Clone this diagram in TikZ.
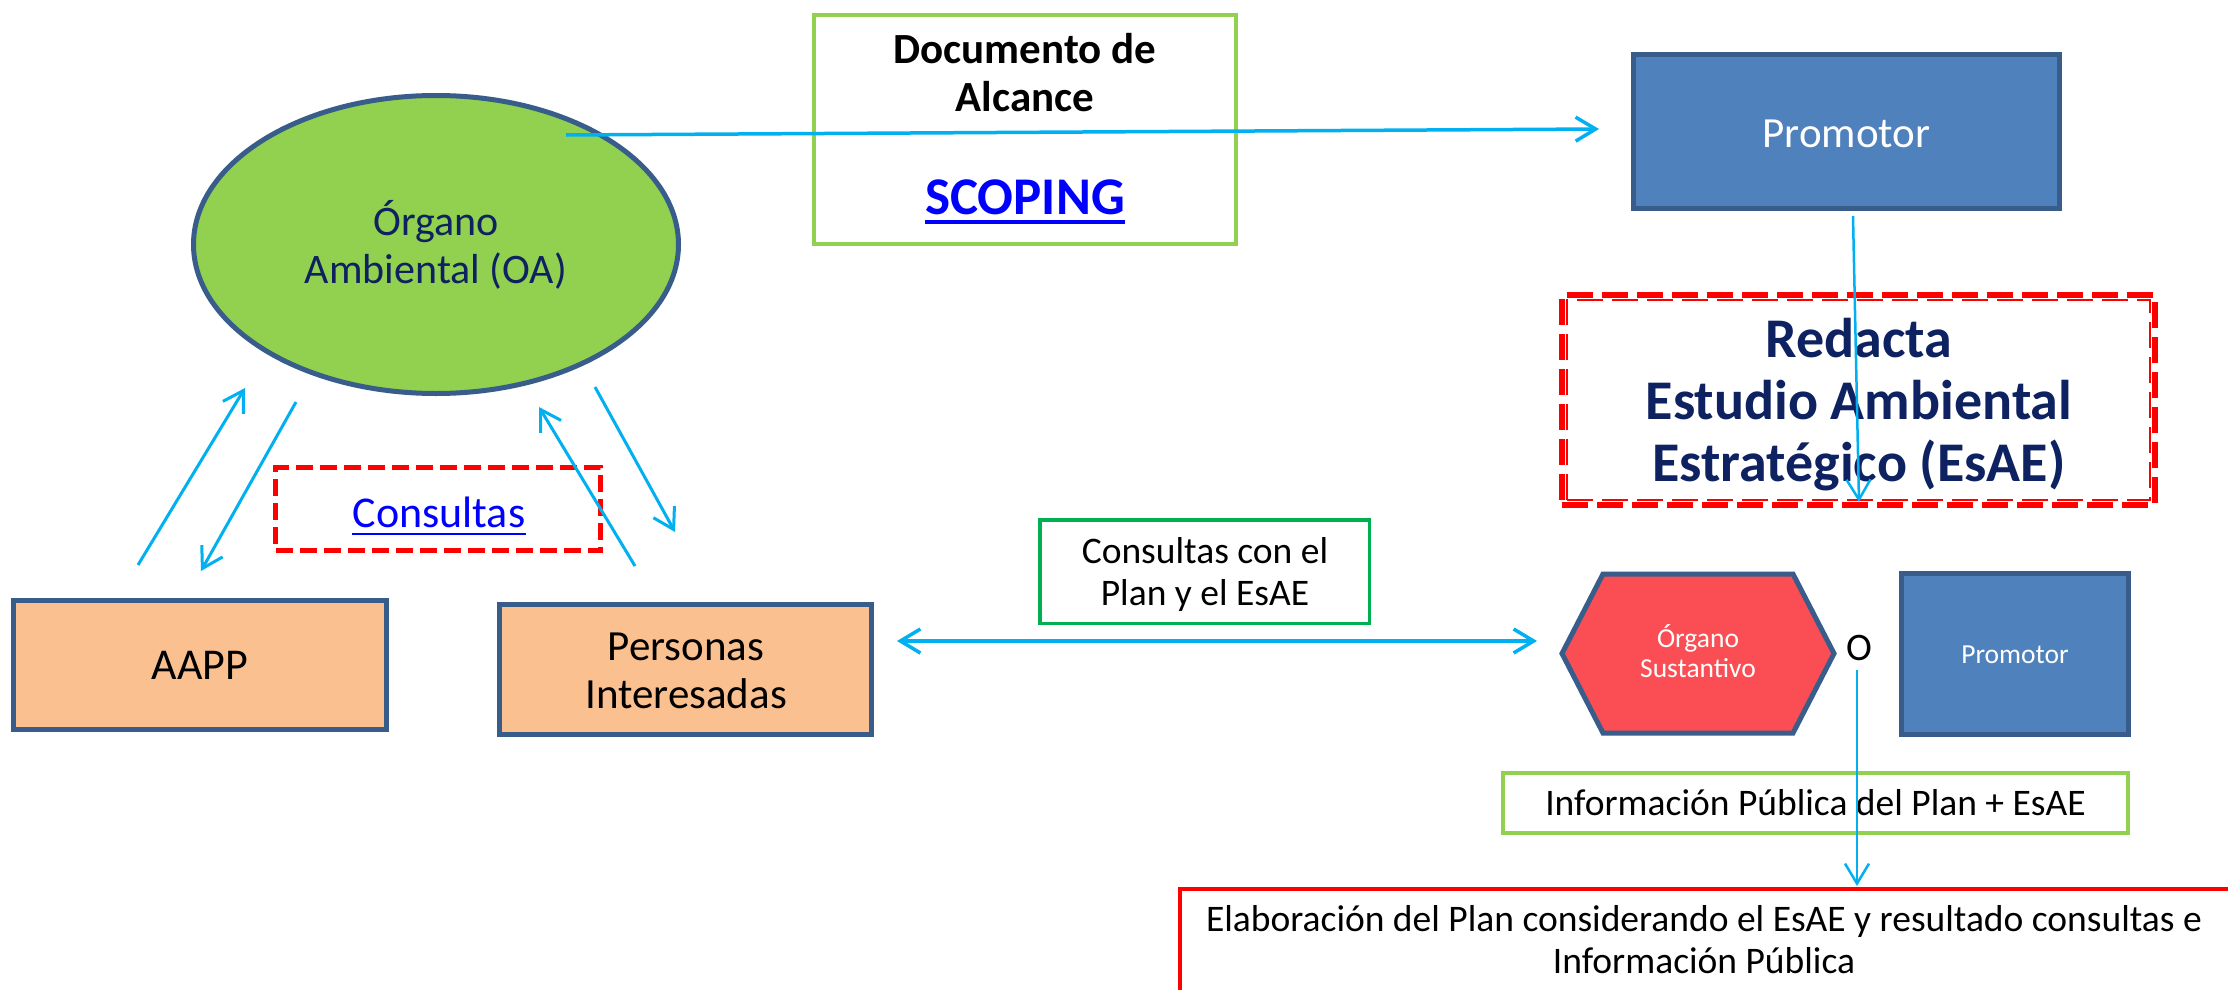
\documentclass[tikz,border=0pt]{standalone}
\usepackage{fontspec}
\setmainfont{Carlito}
\usetikzlibrary{arrows.meta,shapes.geometric}
\definecolor{oagreen}{HTML}{92D050}
\definecolor{outl}{HTML}{385D8A}
\definecolor{navy}{HTML}{0E2160}
\definecolor{promblue}{HTML}{4F81BD}
\definecolor{peach}{HTML}{FAC090}
\definecolor{arrowcyan}{HTML}{00B0F0}
\definecolor{hexred}{HTML}{FA4E54}
\definecolor{boxgreen}{HTML}{00B050}
\definecolor{linkblue}{HTML}{0000FF}
\definecolor{dashred}{HTML}{FF0000}
\newcommand{\fsz}[2]{\fontsize{#1}{#2}\selectfont}
\tikzset{
  txt/.style={inner sep=0pt, anchor=base},
  shapebox/.style={rectangle, draw=outl, line width=5pt, inner sep=0pt},
  conn/.style={draw=arrowcyan, line width=3pt, -{Straight Barb[length=20pt,width=24pt]}},
  thinconn/.style={conn, line width=2.5pt},
  bothconn/.style={draw=arrowcyan, line width=3.5pt, {Straight Barb[length=20pt,width=24pt]}-{Straight Barb[length=20pt,width=24pt]}},
}
\begin{document}
\begin{tikzpicture}[x=1pt,y=-1pt]
\useasboundingbox (0,0) rectangle (2228,990);
\fill[white] (0,0) rectangle (2228,990);
\clip (0,0) rectangle (2228,990);

% ---------- shapes ----------
\node[ellipse, draw=outl, line width=5pt, fill=oagreen, minimum width=485pt, minimum height=298pt, inner sep=0pt] (oa) at (436,244.5) {};
\node[rectangle, draw=oagreen, line width=4pt, minimum width=422pt, minimum height=229pt, inner sep=0pt] (doc) at (1025,129.5) {};
\node[shapebox, fill=promblue, minimum width=426pt, minimum height=154pt] (prom) at (1846.5,131.5) {};
\node[shapebox, fill=peach, minimum width=373pt, minimum height=129pt] (aapp) at (200,665) {};
\node[shapebox, fill=peach, minimum width=372pt, minimum height=130pt] (pers) at (685.5,669.5) {};
\node[rectangle, draw=boxgreen, line width=3.5pt, minimum width=329.5pt, minimum height=103.5pt, inner sep=0pt] (ccbox) at (1204.5,571.5) {};
\node[shapebox, fill=promblue, minimum width=227pt, minimum height=161pt] (prom2) at (2015,654) {};
\node[rectangle, draw=oagreen, line width=4pt, minimum width=625pt, minimum height=60pt, inner sep=0pt] (info) at (1815.5,803) {};

% elaboracion box (runs past the right and bottom edges)
\node[rectangle, minimum width=1100pt, minimum height=220pt, inner sep=0pt, anchor=north west] (elab) at (1180,889) {};
\draw[dashred, line width=4pt] (elab.north east) -- (elab.north west) -- (elab.south west);

% consultas dashed box
\node[rectangle, draw=dashred, line width=5pt, dash pattern=on 17pt off 7pt, minimum width=325pt, minimum height=83pt, inner sep=0pt] (consbox) at (438,509) {};

% redacta double dashed box
\node[rectangle, draw=dashred, line width=5.5pt, dash pattern=on 26pt off 9pt, minimum width=593pt, minimum height=210pt, inner sep=0pt] (redbox) at (1858.5,400) {};
\node[rectangle, draw=dashred, line width=2pt, dash pattern=on 26pt off 9pt, minimum width=583pt, minimum height=200pt, inner sep=0pt] (redboxin) at (1858.5,400) {};

% hexagon (organo sustantivo)
\coordinate (hexc) at (1698,653.5);
\filldraw[fill=hexred, draw=outl, line width=5pt, line join=miter]
  (1562,653.5) -- (1603,574) -- (1793,574) -- (1834,653.5) -- (1793,733) -- (1603,733) -- cycle;

% ---------- texts ----------
\node[txt, text=navy, font=\fsz{42}{48}] (oa1) at (436,235) {Órgano};
\node[txt, text=navy, font=\fsz{42}{48}] (oa2) at (436,283) {Ambiental (OA)};

\node[txt, font=\fsz{43}{47}\bfseries] (doc1) at (1025,64) {Documento de};
\node[txt, font=\fsz{43}{47}\bfseries] (doc2) at (1025,111) {Alcance};
\node[txt, text=linkblue, font=\fsz{53}{58}\bfseries] (scop) at (1025,214) {SCOPING};
\draw[linkblue, line width=4pt] ([yshift=-8pt]scop.base west) -- ([yshift=-8pt]scop.base east);

\node[txt, text=white, font=\fsz{43}{48}] (promt) at (1846.5,147) {Promotor};

\node[txt, text=navy, font=\fsz{56}{62}\bfseries] (red1) at (1859,357) {Redacta};
\node[txt, text=navy, font=\fsz{56}{62}\bfseries] (red2) at (1859,419) {Estudio Ambiental};
\node[txt, text=navy, font=\fsz{56}{62}\bfseries] (red3) at (1859,481) {Estratégico (EsAE)};

\node[txt, text=linkblue, font=\fsz{44}{48}] (cons) at (439,527) {Consultas};
\draw[linkblue, line width=2pt] ([yshift=-7pt]cons.base west) -- ([yshift=-7pt]cons.base east);

\node[txt, font=\fsz{44}{48}] (aappt) at (200,679) {AAPP};
\node[txt, font=\fsz{43}{48}] (pers1) at (686,660) {Personas};
\node[txt, font=\fsz{43}{48}] (pers2) at (686,708) {Interesadas};

\node[txt, font=\fsz{37.5}{42}] (cc1) at (1205,563) {Consultas con el};
\node[txt, font=\fsz{37.5}{42}] (cc2) at (1205,605) {Plan y el EsAE};

\node[txt, text=white, font=\fsz{27.5}{30}] (hex1) at (1698,647) {Órgano};
\node[txt, text=white, font=\fsz{27.5}{30}] (hex2) at (1698,677) {Sustantivo};

\node[txt, font=\fsz{39}{44}] (otext) at (1859,660) {O};

\node[txt, text=white, font=\fsz{27.5}{30}] (prom2t) at (2015,663) {Promotor};

\node[txt, font=\fsz{37.5}{42}] (infot) at (1815.5,815) {Información Pública del Plan + EsAE};

\node[txt, font=\fsz{37.5}{42}] (elab1) at (1704,931) {Elaboración del Plan considerando el EsAE y resultado consultas e};
\node[txt, font=\fsz{37.5}{42}] (elab2) at (1704,973) {Información Pública};

% ---------- connectors ----------
\coordinate (a1s) at (566,135);   \coordinate (a1e) at (1599,129);
\coordinate (a2s) at (1853,216);  \coordinate (a2e) at (1859,502);
\coordinate (a3s) at (138,565);   \coordinate (a3e) at (245,388);
\coordinate (a4s) at (296,402);   \coordinate (a4e) at (201,571);
\coordinate (a5s) at (635,566);   \coordinate (a5e) at (539,407);
\coordinate (a6s) at (595,387);   \coordinate (a6e) at (675,532);
\coordinate (a7s) at (897,641);   \coordinate (a7e) at (1537,641);
\coordinate (a8s) at (1857,670);  \coordinate (a8e) at (1857,886);

\draw[conn, line width=3.5pt] (a1s) -- (a1e);
\draw[thinconn] (a2s) -- (a2e);
\draw[conn] (a3s) -- (a3e);
\draw[conn] (a4s) -- (a4e);
\draw[conn] (a5s) -- (a5e);
\draw[conn] (a6s) -- (a6e);
\draw[bothconn] (a7s) -- (a7e);
\draw[thinconn] (a8s) -- (a8e);
\end{tikzpicture}
\end{document}
